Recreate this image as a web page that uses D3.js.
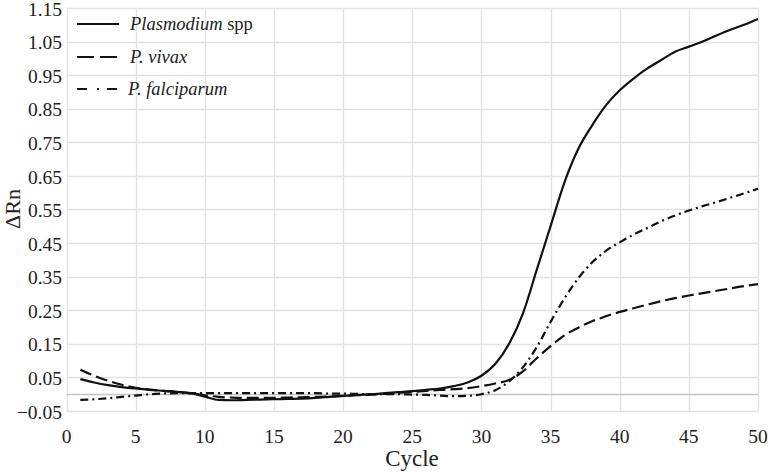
<!DOCTYPE html>
<html><head><meta charset="utf-8">
<script src="https://cdn.jsdelivr.net/npm/d3@7"></script>
<style>body{margin:0;background:#fff}svg{display:block}</style>
</head><body><svg id="c" width="770" height="475"></svg>
<script>
const cycles = d3.range(1, 51);
const plasmodium = [0.045,0.035,0.027,0.021,0.017,0.013,0.010,0.007,0.002,-0.007,
 -0.017,-0.018,-0.017,-0.016,-0.015,-0.014,-0.013,-0.011,-0.008,-0.005,
 -0.002,0.000,0.003,0.006,0.009,0.013,0.017,0.024,0.035,0.055,
 0.09,0.15,0.24,0.37,0.50,0.63,0.73,0.80,0.86,0.905,
 0.94,0.97,0.995,1.02,1.035,1.05,1.068,1.085,1.10,1.117];
const vivax = [0.073,0.055,0.040,0.028,0.019,0.014,0.010,0.007,0.003,-0.003,
 -0.008,-0.010,-0.011,-0.011,-0.011,-0.010,-0.009,-0.008,-0.007,-0.005,
 -0.003,-0.001,0.001,0.004,0.007,0.010,0.013,0.015,0.018,0.024,
 0.032,0.042,0.068,0.107,0.143,0.175,0.198,0.217,0.232,0.245,
 0.256,0.267,0.277,0.286,0.294,0.301,0.308,0.315,0.322,0.328];
const falciparum = [-0.017,-0.015,-0.012,-0.008,-0.004,0.000,0.002,0.003,0.003,0.003,
 0.003,0.003,0.003,0.003,0.003,0.003,0.003,0.003,0.002,0.002,
 0.001,0.000,0.000,0.000,-0.001,-0.002,-0.004,-0.006,-0.005,0.000,
 0.012,0.038,0.080,0.140,0.215,0.285,0.345,0.392,0.427,0.452,
 0.475,0.495,0.515,0.532,0.547,0.560,0.572,0.585,0.598,0.612];
const xTicks = d3.range(0, 51, 5);
const yTicks = d3.range(0, 13).map(i => -0.05 + i * 0.1);
const seriesNames = [["Plasmodium", " spp"], ["P. vivax", ""], ["P. falciparum", ""]];
const seriesData = [plasmodium, vivax, falciparum];
const dashes = [null, "12,5", "8,4,2,4"];
const legendDashes = [null, "17,6", "10,10,2,8"];

const FONT = "'Liberation Serif', 'DejaVu Serif', Times, serif";
const svg = d3.select("#c").attr("font-family", FONT);
const x = d3.scaleLinear().domain([0, 50]).range([66.5, 758]);
const y = d3.scaleLinear().domain([-0.05, 1.15]).range([411, 8]);

// grid
const g = svg.append("g");
g.selectAll(".hg").data(yTicks).join("line")
  .attr("x1", x(0)).attr("x2", x(50)).attr("y1", d => Math.round(y(d)) + 0.5).attr("y2", d => Math.round(y(d)) + 0.5)
  .attr("stroke", "#e2e2e2").attr("stroke-width", 1.3);
g.selectAll(".vg").data(xTicks).join("line")
  .attr("y1", y(-0.05)).attr("y2", y(1.15)).attr("x1", d => Math.round(x(d)) + 0.5).attr("x2", d => Math.round(x(d)) + 0.5)
  .attr("stroke", "#e2e2e2").attr("stroke-width", 1.3);
g.append("line").attr("x1", x(0)).attr("x2", x(50)).attr("y1", Math.round(y(0)) + 0.5).attr("y2", Math.round(y(0)) + 0.5)
  .attr("stroke", "#c4c4c4").attr("stroke-width", 1.3);

// tick labels
svg.append("g").selectAll("text").data(yTicks).join("text")
  .attr("x", 62).attr("y", d => y(d) + 1).attr("dy", "0.34em").attr("text-anchor", "end")
  .attr("font-family", FONT).attr("fill", "#222")
  .attr("font-size", 19.5).text(d => d3.format(".2f")(d));
svg.append("g").selectAll("text").data(xTicks).join("text")
  .attr("x", d => x(d)).attr("y", 443).attr("text-anchor", "middle")
  .attr("font-family", FONT).attr("fill", "#222")
  .attr("font-size", 19.5).text(d => d);

// axis titles
svg.append("text").attr("x", 412).attr("y", 466).attr("text-anchor", "middle").attr("font-size", 23)
  .attr("font-family", FONT).attr("fill", "#222").text("Cycle");
svg.append("text").attr("transform", "translate(20,209) rotate(-90)").attr("text-anchor", "middle").attr("font-size", 22)
  .attr("font-family", FONT).attr("fill", "#222").text("ΔRn");

// lines
const line = d3.line().x((d, i) => x(cycles[i])).y(d => y(d)).curve(d3.curveMonotoneX);
seriesData.forEach((s, k) => {
  svg.append("path").attr("d", line(s)).attr("fill", "none").attr("stroke", "#111")
    .attr("stroke-width", 2.2).attr("stroke-dasharray", dashes[k]);
});

// legend
const ly = [24, 57, 89];
const ty = [30, 63, 95];
seriesNames.forEach((n, k) => {
  svg.append("line").attr("x1", 77).attr("x2", 119).attr("y1", ly[k]).attr("y2", ly[k])
    .attr("stroke", "#111").attr("stroke-width", 2.2).attr("stroke-dasharray", legendDashes[k]);
  const t = svg.append("text").attr("x", k === 2 ? 128 : 130).attr("y", ty[k]).attr("font-size", 18.5)
    .attr("font-family", FONT).attr("fill", "#222");
  t.append("tspan").attr("font-style", "italic").text(n[0]);
  if (n[1]) t.append("tspan").text(n[1]);
});
</script></body></html>
